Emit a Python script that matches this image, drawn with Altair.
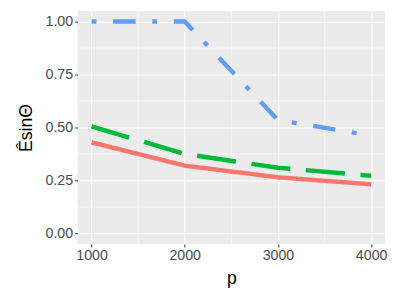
import altair as alt
import pandas as pd

p_values = [1000, 2000, 3000, 4000]
series_a = [0.43, 0.32, 0.265, 0.232]   # red solid
series_b = [0.505, 0.375, 0.31, 0.272]  # green dashed
series_c = [1.0, 1.0, 0.535, 0.462]     # blue dot-dash
series_names = ["a", "b", "c"]
colors = ["#F8766D", "#00BA38", "#619CFF"]
dashes = [[1, 0], [40, 16], [5, 17, 23, 17]]

x_ticks = [1000, 2000, 3000, 4000]
y_ticks = [0.0, 0.25, 0.5, 0.75, 1.0]
x_minor = [1500, 2500, 3500]
y_minor = [0.125, 0.375, 0.625, 0.875]

rows = []
for name, vals in zip(series_names, [series_a, series_b, series_c]):
    for p, v in zip(p_values, vals):
        rows.append({"p": p, "v": v, "s": name})
df = pd.DataFrame(rows)

font = "Liberation Sans"
xscale = alt.Scale(domain=[850, 4150], nice=False, zero=False)
yscale = alt.Scale(domain=[-0.05, 1.05], nice=False, zero=False)

axis_common = dict(
    grid=True, gridColor="white", gridWidth=1.1, domain=False,
    tickColor="#333333", tickSize=3, tickWidth=1,
    labelColor="#4D4D4D", labelFontSize=14.5, labelFont=font, labelPadding=2,
    titleColor="black", titleFontSize=18, titleFont=font, titleFontWeight="normal",
)
x_axis = alt.Axis(values=x_ticks, format="d", titlePadding=8, **axis_common)
y_axis = alt.Axis(values=y_ticks, format=".2f", titlePadding=10, **axis_common)

minor_x = alt.Chart(pd.DataFrame({"p": x_minor})).mark_rule(color="white", strokeWidth=0.5).encode(
    x=alt.X("p:Q", scale=xscale, title="p", axis=x_axis))
minor_y = alt.Chart(pd.DataFrame({"v": y_minor})).mark_rule(color="white", strokeWidth=0.5).encode(
    y=alt.Y("v:Q", scale=yscale, title="ÊsinΘ", axis=y_axis))

lines = alt.Chart(df).mark_line(strokeWidth=4.5, strokeCap="butt").encode(
    x=alt.X("p:Q", scale=xscale, title="p", axis=x_axis),
    y=alt.Y("v:Q", scale=yscale, title="ÊsinΘ", axis=y_axis),
    color=alt.Color("s:N", scale=alt.Scale(domain=series_names, range=colors), legend=None),
    strokeDash=alt.StrokeDash("s:N", scale=alt.Scale(domain=series_names, range=dashes), legend=None),
)

chart = alt.layer(minor_x, minor_y, lines).properties(
    width=314, height=238,
    autosize=alt.AutoSizeParams(type="none"),
    padding={"left": 71, "top": 0, "right": 7, "bottom": 47},
).configure_view(fill="#EBEBEB", stroke=None)

chart.save("out.html", embed_options={"renderer": "svg", "actions": False})
